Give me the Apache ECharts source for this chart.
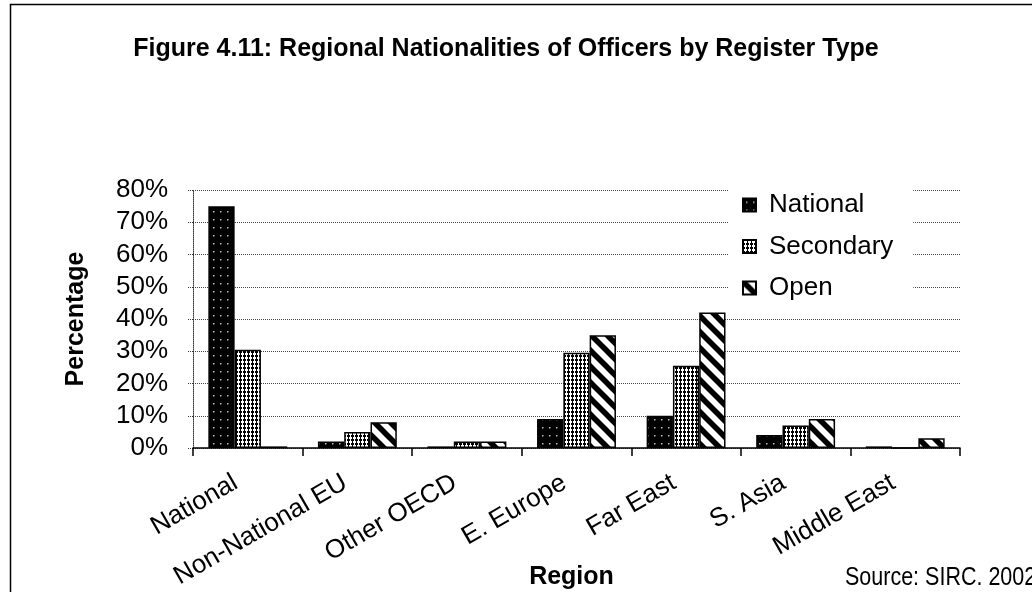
<!DOCTYPE html>
<html>
<head>
<meta charset="utf-8">
<script src="https://cdn.jsdelivr.net/npm/echarts@6/dist/echarts.min.js"></script>
<style>
html,body{margin:0;padding:0;background:#fff;}
#chart{width:1032px;height:592px;}
</style>
</head>
<body>
<div id="chart"></div>
<script>
const categories = ['National','Non-National EU','Other OECD','E. Europe','Far East','S. Asia','Middle East'];
const nationalVals = [75, 2, 0.5, 9, 10, 4, 0.5];
const secondaryVals = [30.5, 5, 2, 29.5, 25.5, 7, 0];
const openVals = [0.5, 8, 2, 35, 42, 9, 3];
const seriesNames = ['National','Secondary','Open'];
const yTicks = [0, 10, 20, 30, 40, 50, 60, 70, 80];

function makeTile(w, h, draw) {
  const c = document.createElement('canvas');
  c.width = w; c.height = h;
  const ctx = c.getContext('2d');
  draw(ctx, w, h);
  return {image: c, repeat: 'repeat'};
}
const patNational = makeTile(7, 8, (ctx, w, h) => {
  ctx.fillStyle = '#000'; ctx.fillRect(0, 0, w, h);
  ctx.fillStyle = '#bbb'; ctx.fillRect(3, 3, 1.5, 1.5);
});
const patSecondary = makeTile(4, 4, (ctx, w, h) => {
  ctx.fillStyle = '#000'; ctx.fillRect(0, 0, w, h);
  ctx.fillStyle = '#fff'; ctx.fillRect(1, 1, 3, 2); ctx.fillRect(2, 0, 1, 4);
});
const patOpen = makeTile(16, 16, (ctx, w, h) => {
  ctx.fillStyle = '#fff'; ctx.fillRect(0, 0, w, h);
  ctx.strokeStyle = '#000'; ctx.lineWidth = 5.5;
  for (let k = -1; k <= 1; k++) {
    ctx.beginPath();
    ctx.moveTo(k * w - 2, -2);
    ctx.lineTo(k * w + w + 2, h + 2);
    ctx.stroke();
  }
});

const FONT = "'Liberation Sans', Arial, sans-serif";
const chart = echarts.init(document.getElementById('chart'), null, {renderer: 'canvas'});

function bar(name, data, pat) {
  return {
    name: name, type: 'bar', data: data,
    barGap: '0%', barCategoryGap: '28%',
    itemStyle: {color: pat, borderColor: '#000', borderWidth: 1.5}
  };
}

chart.setOption({
  backgroundColor: '#fff',
  animation: false,
  legend: {
    data: seriesNames,
    orient: 'vertical',
    left: 728, top: 185,
    padding: [6, 20, 12, 14],
    backgroundColor: '#fff',
    icon: 'rect',
    itemWidth: 13, itemHeight: 13,
    itemGap: 13.5,
    textStyle: {fontFamily: FONT, fontSize: 26, color: '#000', lineHeight: 28, padding: [0, 0, 0, 8]}
  },
  grid: {left: 193, right: 72, top: 190, bottom: 144, containLabel: false, outerBoundsMode: 'none'},
  xAxis: {
    type: 'category',
    data: categories,
    name: 'Region',
    nameLocation: 'middle',
    nameGap: 117,
    nameMoveOverlap: false,
    nameTextStyle: {fontFamily: FONT, fontSize: 25, fontWeight: 'bold', color: '#000', padding: [0, 10, 0, 0]},
    axisLine: {lineStyle: {color: '#000', width: 1.5}},
    axisTick: {show: true, length: 8, lineStyle: {color: '#000', width: 1.5}},
    axisLabel: {rotate: 30, margin: 26, padding: [0, 14, 0, 0], fontFamily: FONT, fontSize: 26, color: '#000', interval: 0}
  },
  yAxis: {
    type: 'value',
    min: 0, max: 80, interval: 10,
    name: 'Percentage',
    nameLocation: 'middle',
    nameGap: 104,
    nameMoveOverlap: false,
    nameTextStyle: {fontFamily: FONT, fontSize: 25, fontWeight: 'bold', color: '#000'},
    axisLine: {show: true, lineStyle: {color: '#333', width: 1, type: 'dotted'}},
    axisTick: {show: true, length: 6, lineStyle: {color: '#333', type: 'dotted'}},
    splitLine: {show: true, lineStyle: {color: '#444', width: 1, type: 'dotted'}},
    axisLabel: {
      margin: 25, fontFamily: FONT, fontSize: 26, color: '#000',
      formatter: v => (yTicks.indexOf(v) >= 0 ? v + '%' : '')
    }
  },
  series: [
    bar(seriesNames[0], nationalVals, patNational),
    bar(seriesNames[1], secondaryVals, patSecondary),
    bar(seriesNames[2], openVals, patOpen)
  ],
  graphic: [
    {type: 'rect', left: 8, top: 2, shape: {width: 1030, height: 600},
     style: {fill: 'none', stroke: '#000', lineWidth: 1.5}, silent: true},
    {type: 'text', x: 506, y: 49,
     style: {text: 'Figure 4.11: Regional Nationalities of Officers by Register Type',
             fontFamily: FONT, fontSize: 25, fontWeight: 'bold', fill: '#000',
             align: 'center', verticalAlign: 'middle'}},
    {type: 'text', x: 845, y: 578, scaleX: 0.86,
     style: {text: 'Source: SIRC. 2002', fontFamily: FONT, fontSize: 25, fill: '#000',
             align: 'left', verticalAlign: 'middle'}}
  ]
});
</script>
</body>
</html>
